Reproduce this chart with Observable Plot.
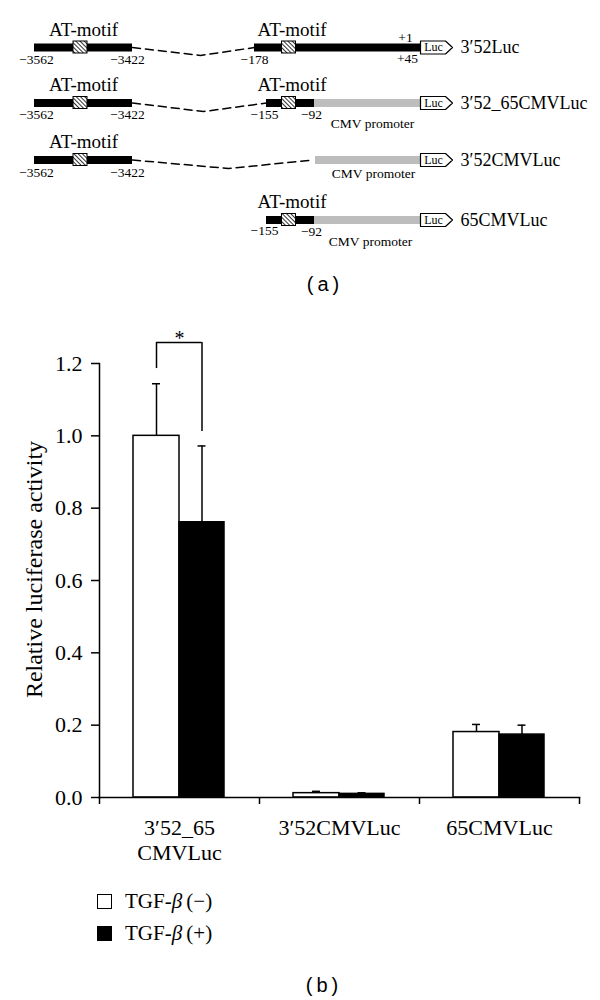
<!DOCTYPE html>
<html><head><meta charset="utf-8">
<script src="https://cdn.jsdelivr.net/npm/d3@7"></script>
<script src="https://cdn.jsdelivr.net/npm/@observablehq/plot@0.6"></script>
<style>
body{margin:0;background:#fff;}
#wrap{position:relative;width:600px;height:1000px;font-family:"Liberation Serif",serif;color:#000;}
.abs{position:absolute;}
.cap{font-family:"Liberation Sans",Arial,sans-serif;font-size:20px;letter-spacing:4px;width:64px;text-align:center;}
.leg{font-size:21px;line-height:24px;display:flex;align-items:center;}
.sw{width:13px;height:13px;border:1.5px solid #000;margin-right:13px;}
</style></head><body><div id="wrap"></div>
<script>
// ---------- Panel (b) data ----------
const categories = ["3′52_65\nCMVLuc", "3′52CMVLuc", "65CMVLuc"];
const treatments = ["TGF-β (−)", "TGF-β (+)"];
const meanMinus = [1.0, 0.012, 0.181];
const errMinus  = [0.144, 0.005, 0.021];
const meanPlus  = [0.761, 0.010, 0.174];
const errPlus   = [0.211, 0.003, 0.026];
const yTicks = [0, 0.2, 0.4, 0.6, 0.8, 1.0, 1.2];
const yLabel = "Relative luciferase activity";
const significance = [{cat: categories[0], left: 1.186, top: 1.258, right: 1.012, mark: "*"}];

// ---------- Panel (a) schematic data (diagram units) ----------
const rowY = [47, 102.5, 159.5, 219.5];
const constructNames = ["3′52Luc", "3′52_65CMVLuc", "3′52CMVLuc", "65CMVLuc"];
const genomicSegments = [
  {row: 0, x1: 34, x2: 132}, {row: 0, x1: 254, x2: 420},
  {row: 1, x1: 34, x2: 132}, {row: 1, x1: 266, x2: 314},
  {row: 2, x1: 34, x2: 132},
  {row: 3, x1: 266, x2: 314}
];
const cmvSegments = [{row: 1, x1: 314, x2: 420}, {row: 2, x1: 315, x2: 420}, {row: 3, x1: 314, x2: 420}];
const motifs = [{row: 0, x: 80}, {row: 0, x: 288.5}, {row: 1, x: 80}, {row: 1, x: 288.5}, {row: 2, x: 80}, {row: 3, x: 288.5}];
const joins = [
  {row: 0, x1: 132, xm: 200, x2: 254, dip: 8},
  {row: 1, x1: 132, xm: 203, x2: 266, dip: 8.5},
  {row: 2, x1: 132, xm: 228, x2: 313, dip: 8.5}
];
const positionLabels = [
  {row: 0, x: 36, text: "−3562", off: 12}, {row: 0, x: 127, text: "−3422", off: 12},
  {row: 0, x: 254, text: "−178", off: 12}, {row: 0, x: 405, text: "+1", off: -10}, {row: 0, x: 407, text: "+45", off: 11},
  {row: 1, x: 36, text: "−3562", off: 12}, {row: 1, x: 127, text: "−3422", off: 12},
  {row: 1, x: 264, text: "−155", off: 12}, {row: 1, x: 311, text: "−92", off: 12},
  {row: 2, x: 36, text: "−3562", off: 13}, {row: 2, x: 127, text: "−3422", off: 13},
  {row: 3, x: 264, text: "−155", off: 11}, {row: 3, x: 311, text: "−92", off: 12}
];
const cmvLabels = [{row: 1, x: 372, off: 21}, {row: 2, x: 373, off: 14}, {row: 3, x: 370, off: 22}];
const lucStart = 420, lucBody = 25, lucTip = 32, lucHalf = 6.5, nameX = 460;

const wrap = document.getElementById("wrap");
const serif = "Liberation Serif, Times New Roman, serif";

// ---------- Panel (a) ----------
const lucPts = rowY.flatMap((y, r) => [
  {r, x: lucStart, y: y - lucHalf}, {r, x: lucStart + lucBody, y: y - lucHalf}, {r, x: lucStart + lucTip, y},
  {r, x: lucStart + lucBody, y: y + lucHalf}, {r, x: lucStart, y: y + lucHalf}, {r, x: lucStart, y: y - lucHalf}
]);
const joinPts = joins.flatMap(j => [
  {r: j.row, x: j.x1, y: rowY[j.row]}, {r: j.row, x: j.xm, y: rowY[j.row] + j.dip}, {r: j.row, x: j.x2, y: rowY[j.row]}
]);
const constructs = constructNames.map((name, r) => ({name, r, y: rowY[r]}));

const panelA = Plot.plot({
  width: 600, height: 270, margin: 0,
  x: {domain: [0, 600], range: [0, 600], axis: null},
  y: {domain: [0, 270], range: [0, 270], axis: null},
  style: {fontFamily: serif, color: "black", background: "white", overflow: "visible"},
  marks: [
    Plot.line(joinPts, {x: "x", y: "y", z: "r", strokeDasharray: "8,5", strokeWidth: 1.5, stroke: "black"}),
    Plot.ruleY(cmvSegments, {y: d => rowY[d.row], x1: "x1", x2: "x2", stroke: "#bdbdbd", strokeWidth: 8}),
    Plot.ruleY(genomicSegments, {y: d => rowY[d.row], x1: "x1", x2: "x2", stroke: "black", strokeWidth: 8}),
    Plot.rect(motifs, {x1: d => d.x - 7, x2: d => d.x + 7, y1: d => rowY[d.row] - 6, y2: d => rowY[d.row] + 6, fill: "url(#hatch)", stroke: "black", strokeWidth: 1}),
    Plot.text(motifs, {x: d => d.x + 3, y: d => rowY[d.row] - 18, text: () => "AT-motif", fontSize: 19}),
    Plot.line(lucPts, {x: "x", y: "y", z: "r", fill: "white", stroke: "black", strokeWidth: 1.2}),
    Plot.text(constructs, {x: () => lucStart + 13, y: "y", text: () => "Luc", fontSize: 12}),
    Plot.text(constructs, {x: () => nameX, y: "y", text: "name", textAnchor: "start", fontSize: 18}),
    Plot.text(positionLabels, {x: "x", y: d => rowY[d.row] + d.off, text: "text", fontSize: 13.5}),
    Plot.text(cmvLabels, {x: "x", y: d => rowY[d.row] + d.off, text: () => "CMV promoter", fontSize: 13.5})
  ]
});
d3.select(panelA).insert("defs", ":first-child").html(
  '<pattern id="hatch" patternUnits="userSpaceOnUse" width="3" height="3" patternTransform="rotate(-45)">' +
  '<rect width="3" height="3" fill="white"/><line x1="0" y1="0" x2="0" y2="3" stroke="black" stroke-width="1.6"/></pattern>');
panelA.style.position = "absolute"; panelA.style.left = "0px"; panelA.style.top = "0px";
wrap.appendChild(panelA);

// ---------- Panel (b) ----------
const bars = categories.flatMap((cat, i) => [
  {cat, trt: treatments[0], mean: meanMinus[i], err: errMinus[i]},
  {cat, trt: treatments[1], mean: meanPlus[i], err: errPlus[i]}
]);
const neg = bars.filter(d => d.trt === treatments[0]);
const pos = bars.filter(d => d.trt === treatments[1]);
const fmt = d3.format(".1f");

const panelB = Plot.plot({
  width: 600, height: 545,
  marginLeft: 99, marginRight: 21, marginTop: 43, marginBottom: 68,
  style: {fontFamily: serif, fontSize: "21px", color: "black", background: "white", overflow: "visible"},
  x: {type: "band", domain: categories, padding: 0},
  y: {domain: [0, 1.2]},
  marks: [
    Plot.barY(neg, {x: "cat", y: "mean", fill: "white", stroke: "black", strokeWidth: 1.5, insetLeft: 34, insetRight: 80}),
    Plot.barY(pos, {x: "cat", y: "mean", fill: "black", stroke: "black", strokeWidth: 1.5, insetLeft: 80, insetRight: 35}),
    Plot.ruleX(neg, {x: "cat", y1: "mean", y2: d => d.mean + d.err, dx: -23, strokeWidth: 1.5}),
    Plot.ruleX(pos, {x: "cat", y1: "mean", y2: d => d.mean + d.err, dx: 22.5, strokeWidth: 1.5}),
    Plot.tickY(neg, {x: "cat", y: d => d.mean + d.err, insetLeft: 53, insetRight: 99, strokeWidth: 1.5}),
    Plot.tickY(pos, {x: "cat", y: d => d.mean + d.err, insetLeft: 98.5, insetRight: 53.5, strokeWidth: 1.5}),
    Plot.ruleX(significance, {x: "cat", y1: "left", y2: "top", dx: -23, strokeWidth: 1.5}),
    Plot.ruleX(significance, {x: "cat", y1: "right", y2: "top", dx: 22.5, strokeWidth: 1.5}),
    Plot.tickY(significance, {x: "cat", y: "top", insetLeft: 57, insetRight: 57.5, strokeWidth: 1.5}),
    Plot.text(significance, {x: "cat", y: "top", text: "mark", dy: 2, lineAnchor: "bottom", fontSize: 20}),
    Plot.frame({anchor: "left", strokeWidth: 1.5}),
    Plot.frame({anchor: "bottom", strokeWidth: 1.5}),
    Plot.axisY({ticks: yTicks, tickFormat: fmt, tickSize: 8, tickPadding: 9, strokeWidth: 1.5, fontSize: 22, label: null}),
    Plot.text([yLabel], {text: d => d, frameAnchor: "left", textAnchor: "middle", lineAnchor: "middle", rotate: -90, dx: -65, dy: -11, fontSize: 24}),
    Plot.axisX({tickSize: 0, tickPadding: 20, lineHeight: 1.14, fontSize: 22, label: null}),
    Plot.axisX({tickSize: 7, tickFormat: () => "", dx: -80, strokeWidth: 1.5, label: null}),
    Plot.axisX({ticks: [categories[2]], tickSize: 7, tickFormat: () => "", dx: 80, strokeWidth: 1.5, label: null})
  ]
});
panelB.style.position = "absolute"; panelB.style.left = "0px"; panelB.style.top = "320px";
wrap.appendChild(panelB);

// ---------- captions & legend ----------
function addDiv(html, cls, left, top) {
  const d = document.createElement("div");
  d.className = "abs " + cls; d.style.left = left + "px"; d.style.top = top + "px";
  d.innerHTML = html; wrap.appendChild(d); return d;
}
addDiv("(a)", "cap", 293, 273);
addDiv("(b)", "cap", 292, 974);
addDiv('<span class="sw" style="background:#fff"></span>TGF-<i>β</i>&#8201;(−)', "leg", 97, 889);
addDiv('<span class="sw" style="background:#000"></span>TGF-<i>β</i>&#8201;(+)', "leg", 97, 921);
</script></body></html>
